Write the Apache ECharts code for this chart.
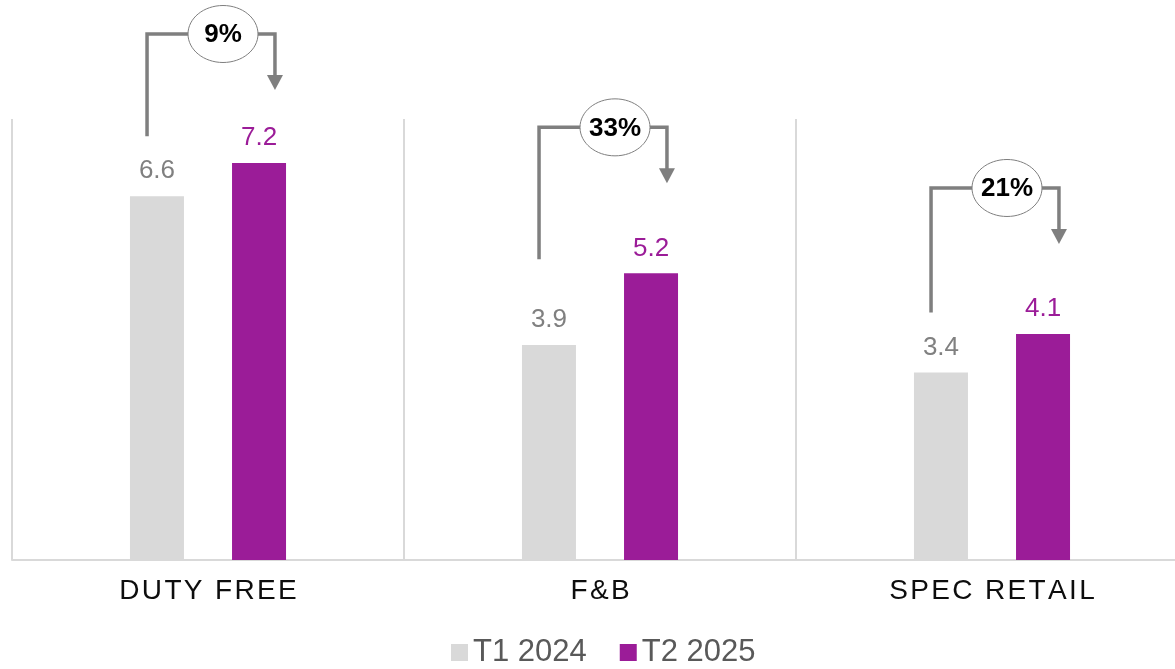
<!DOCTYPE html>
<html>
<head>
<meta charset="utf-8">
<script src="https://cdn.jsdelivr.net/npm/echarts@6/dist/echarts.min.js"></script>
<style>
  html, body { margin: 0; padding: 0; background: #ffffff; overflow: hidden; }
  /* the plot runs past the right edge, so the last category band is cut off */
  #chart { width: 1190px; height: 669px; }
</style>
</head>
<body>
<div id="chart"></div>
<script>
// Sales by channel, two periods
const categories = ['DUTY FREE', 'F&B', 'SPEC RETAIL'];
const seriesNames = ['T1 2024', 'T2 2025'];
const valuesT1 = [6.6, 3.9, 3.4];
const valuesT2 = [7.2, 5.2, 4.1];

const FONT = '"Liberation Sans", Arial, sans-serif';
const GREY_BAR = '#d9d9d9';
const PURPLE_BAR = '#9b1c98';
const BRACKET = '#7f7f7f';

// growth from T1 to T2, one row per category: [index, t1, t2]
const growthRows = categories.map((c, i) => [i, valuesT1[i], valuesT2[i]]);

const chart = echarts.init(document.getElementById('chart'), null, { renderer: 'canvas' });

function renderBracket(params, api) {
  const idx = api.value(0);
  const t1 = api.value(1);
  const t2 = api.value(2);
  const band = api.size([1, 0])[0];
  const center = api.coord([idx, 0])[0];
  const t1Top = api.coord([idx, t1])[1];
  const t2Top = api.coord([idx, t2])[1];
  const off = band * 0.13;
  const leftX = center - off - 10;
  const rightX = center + off + 16;
  const topY = Math.max(t2Top - 146, 34);
  const tipY = topY + 56;
  const leftBottom = Math.min(topY + 132, t1Top - 60);
  const headH = 15, headW = 8;
  const pct = Math.round((t2 / t1 - 1) * 100) + '%';
  const ex = center + 15;
  return {
    type: 'group',
    children: [
      {
        type: 'polyline',
        shape: { points: [[leftX, leftBottom], [leftX, topY], [rightX, topY], [rightX, tipY - headH + 1]] },
        style: { stroke: BRACKET, lineWidth: 3.5, fill: null, lineJoin: 'miter' }
      },
      {
        type: 'polygon',
        shape: { points: [[rightX - headW, tipY - headH], [rightX + headW, tipY - headH], [rightX, tipY]] },
        style: { fill: BRACKET }
      },
      {
        type: 'ellipse',
        shape: { cx: ex, cy: topY, rx: 35, ry: 28.5 },
        style: { fill: '#ffffff', stroke: BRACKET, lineWidth: 1 }
      },
      {
        type: 'text',
        x: ex, y: topY + 1,
        style: {
          text: pct, fill: '#000000',
          font: 'bold 26px ' + FONT,
          align: 'center', verticalAlign: 'middle'
        }
      }
    ]
  };
}

const option = {
  backgroundColor: '#ffffff',
  animation: false,
  grid: { left: 12, right: 2, top: 119, bottom: 109, containLabel: false },
  legend: {
    data: seriesNames,
    left: 451,
    top: 637,
    padding: 0,
    icon: 'rect',
    itemWidth: 17,
    itemHeight: 17,
    itemGap: 33,
    textStyle: { fontFamily: FONT, fontSize: 31, color: '#595959', padding: [0, 0, 0, 0] }
  },
  xAxis: {
    type: 'category',
    data: categories,
    axisTick: { show: false },
    axisLine: { lineStyle: { color: '#d9d9d9', width: 2 } },
    splitLine: { show: true, lineStyle: { color: '#d9d9d9', width: 2 } },
    axisLabel: {
      fontFamily: FONT, fontSize: 28, color: '#0d0d0d', margin: 17,
      // widen the tracking of the category names with hair spaces
      formatter: v => v.split('').join('\u200A')
    }
  },
  yAxis: {
    type: 'value',
    min: 0,
    max: 8,
    show: false,
    splitLine: { show: false }
  },
  series: [
    {
      name: seriesNames[0],
      type: 'bar',
      data: valuesT1,
      barWidth: 54,
      barGap: '89%',
      itemStyle: { color: GREY_BAR },
      label: {
        show: true, position: 'top', distance: 12,
        fontFamily: FONT, fontSize: 26, color: '#808080',
        formatter: p => p.value.toFixed(1)
      }
    },
    {
      name: seriesNames[1],
      type: 'bar',
      data: valuesT2,
      barWidth: 54,
      barGap: '89%',
      itemStyle: { color: PURPLE_BAR },
      label: {
        show: true, position: 'top', distance: 12,
        fontFamily: FONT, fontSize: 26, color: '#9b1c98',
        formatter: p => p.value.toFixed(1)
      }
    },
    {
      name: 'growth',
      type: 'custom',
      data: growthRows,
      encode: { x: 0, y: 1 },
      clip: false,
      silent: true,
      z: 10,
      renderItem: renderBracket
    }
  ]
};

chart.setOption(option);
</script>
</body>
</html>
